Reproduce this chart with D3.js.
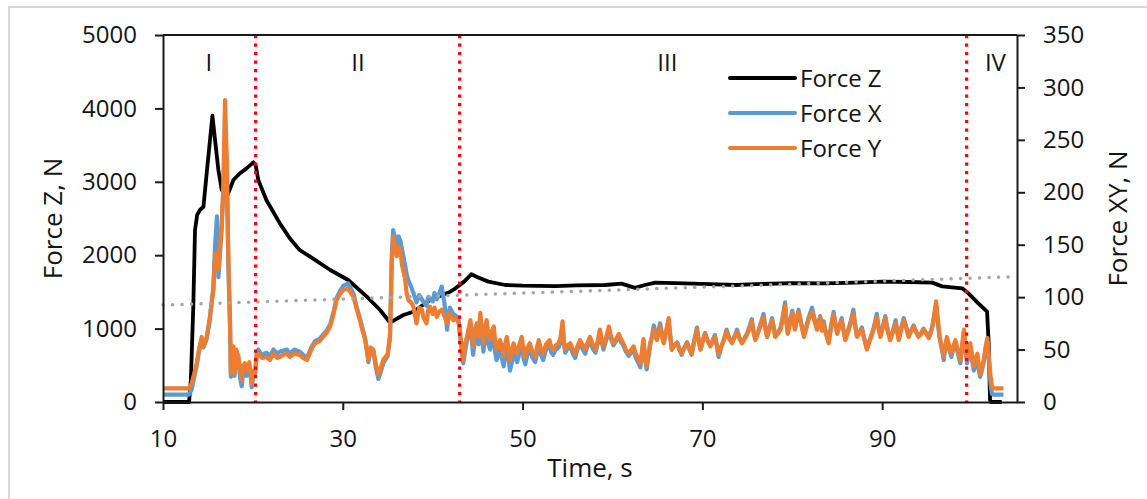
<!DOCTYPE html>
<html><head><meta charset="utf-8">
<script src="https://cdn.jsdelivr.net/npm/d3@7"></script>
<style>
body{margin:0;background:#fff;}
svg{display:block;}
text{font-family:"Open Sans",sans-serif;fill:#141414;}
</style>
</head><body>
<svg id="chart" width="1147" height="499"></svg>
<script>
// ---------- DATA ----------
const timeZ = [10,12.9,13.1,13.37,13.56,13.8,14.1,14.5,14.86,15.23,
  15.5,15.79,16.16,16.35,16.53,17.1,17.5,17.83,18.57,19.3,
  20.05,20.3,20.6,21.5,23.0,24.1,25.2,26.36,28.6,30.6,
  32.67,34.15,35.26,36.75,37.86,39.7,41.9,42.5,43.5,44.3,
  45.0,46.2,48.06,50,53.6,56,59.2,61.0,62.5,63.6,
  64.76,67,70,73.66,76,80,83.7,87,90,93,
  95.55,96.67,98.9,99.6,100.7,101.67,101.85,102.0,102.1,103.3];
const forceZ = [0,0,300,1300,2340,2550,2616,2660,3116,3570,
  3900,3570,3160,3024,2890,2800,2920,3024,3116,3183,
  3265,3230,3024,2752,2434,2230,2071,1980,1798,1662,
  1435,1253,1080,1185,1230,1390,1500,1545,1640,1740,
  1700,1640,1594,1585,1580,1590,1594,1612,1555,1594,
  1626,1620,1610,1594,1605,1620,1617,1625,1640,1635,
  1626,1575,1549,1480,1344,1230,800,30,0,0];

const timeXY = [10.0,12.9,13.2,13.5,13.75,14.0,14.3,14.5,14.86,15.2,
  15.6,15.8,16.0,16.16,16.53,16.7,16.9,17.1,17.27,17.46,
  17.55,17.83,17.95,18.15,18.4,18.6,18.76,18.95,19.1,19.3,
  19.6,19.87,20.05,20.24,20.45,20.6,21.0,21.5,21.9,22.3,
  22.7,23.0,23.4,23.8,24.1,24.6,25.2,25.6,26.0,26.5,
  26.9,27.4,27.8,28.2,28.6,29.0,29.3,29.7,30.07,30.6,
  31.2,31.5,31.9,32.2,32.5,32.85,33.1,33.4,33.7,33.96,
  34.2,34.5,35.0,35.26,35.45,35.6,36.0,36.2,36.4,36.6,
  36.9,37.1,37.3,37.6,37.86,38.0,38.2,38.5,38.8,39.0,
  39.3,39.5,39.7,40.0,40.2,40.46,40.7,41.0,41.3,41.6,
  41.9,42.3,42.6,42.9,43.05,43.4,43.6,43.8,44.0,44.2,
  44.5,44.7,44.9,45.1,45.3,45.5,45.65,45.8,46.0,46.2,
  46.4,46.6,46.8,46.95,47.1,47.3,47.5,47.7,47.9,48.05,
  48.25,48.45,48.6,48.8,49.0,49.2,49.4,49.65,49.9,50.1,
  50.3,50.55,50.8,51.1,51.4,51.6,51.8,52.05,52.3,52.6,
  53.0,53.2,53.4,53.7,54.0,54.2,54.45,54.6,54.75,55.0,
  55.3,55.6,55.85,56.1,56.4,56.7,56.97,57.2,57.5,57.8,
  58.1,58.35,58.6,58.8,59.0,59.3,59.6,59.85,60.1,60.4,
  60.7,60.95,61.2,61.5,61.8,62.1,62.35,62.6,62.9,63.1,
  63.3,63.45,63.6,63.8,64.0,64.2,64.4,64.6,64.8,64.95,
  65.1,65.3,65.5,65.7,65.95,66.25,66.45,66.6,66.9,67.2,
  67.45,67.7,68.0,68.3,68.55,68.8,69.1,69.4,69.6,69.8,
  70.05,70.3,70.6,70.9,71.15,71.4,71.6,71.8,72.1,72.4,
  72.7,73.0,73.3,73.6,73.85,74.1,74.4,74.7,75.0,75.25,
  75.5,75.7,75.9,76.2,76.45,76.6,76.8,77.0,77.2,77.5,
  77.75,77.95,78.1,78.4,78.7,78.95,79.2,79.35,79.5,79.75,
  80.0,80.15,80.3,80.5,80.7,81.0,81.3,81.55,81.8,82.0,
  82.2,82.5,82.75,82.95,83.1,83.3,83.5,83.75,84.05,84.3,
  84.6,84.8,85.0,85.25,85.5,85.7,85.9,86.2,86.5,86.8,
  87.0,87.2,87.5,87.75,88.0,88.3,88.6,88.9,89.15,89.4,
  89.6,89.8,90.1,90.35,90.6,90.9,91.2,91.5,91.7,91.85,
  92.1,92.4,92.7,92.95,93.2,93.5,93.8,94.05,94.35,94.6,
  94.9,95.2,95.4,95.6,96.0,96.2,96.4,96.65,96.85,97.0,
  97.2,97.45,97.7,97.95,98.15,98.45,98.7,98.9,99.1,99.3,
  99.45,99.65,99.8,100.0,100.2,100.4,100.6,100.75,100.9,101.1,
  101.3,101.5,101.7,101.9,102.05,102.2,102.4,103.5];

const forceY = [13,13,18,28,37,50,62,53,62,80,
  107,142,135,126,170,202,288,230,139,75,
  27,53,27,50,43,30,21,35,37,30,
  38,18,30,28,46,46,42,43,40,46,
  42,43,45,46,43,46,45,42,40,50,
  56,58,62,66,72,85,97,103,107,108,
  100,90,78,68,59,40,52,50,35,26,
  32,40,46,65,132,158,139,148,145,130,
  119,104,97,95,91,84,75,90,88,80,
  75,88,91,84,90,81,86,88,82,75,
  85,78,80,75,66,40,55,62,70,78,
  53,68,75,62,85,68,56,70,78,64,
  59,68,72,58,50,55,59,52,43,55,
  62,50,40,48,56,50,46,55,62,50,
  43,52,56,48,43,52,59,50,46,55,
  59,52,50,54,56,60,77,58,50,54,
  56,50,46,53,59,54,50,56,62,55,
  50,58,69,60,53,62,72,62,56,60,
  65,60,56,50,46,50,53,46,40,37,
  50,60,45,34,45,56,62,69,62,59,
  66,72,63,56,66,80,62,50,54,56,
  50,46,52,56,50,46,58,69,58,50,
  58,65,58,53,58,62,54,46,53,59,
  67,60,56,62,67,61,56,60,65,70,
  77,66,59,66,72,76,81,70,62,70,
  78,70,62,65,69,80,92,76,65,75,
  85,76,69,78,86,74,62,70,78,82,
  86,76,69,76,81,68,75,65,56,70,
  83,74,65,72,78,68,59,67,75,85,
  72,62,66,69,60,50,58,65,72,81,
  70,62,72,80,68,59,67,75,66,59,
  68,78,70,62,67,72,66,62,65,69,
  65,61,66,72,96,78,62,52,43,52,
  62,54,46,54,59,48,40,55,69,52,
  40,50,56,45,34,42,46,35,26,33,
  40,52,61,40,25,15,13,13];

const forceX = [7,7,12,25,35,48,60,52,60,78,
  110,150,177,119,165,200,260,215,130,70,
  24,50,25,45,38,22,15,30,33,25,
  36,14,26,27,48,50,45,47,44,50,
  46,48,49,50,46,50,48,45,42,52,
  58,60,64,68,74,87,99,106,111,113,
  103,92,80,70,60,38,50,48,32,22,
  28,37,44,62,140,164,150,158,154,145,
  132,122,116,110,104,100,95,102,98,95,
  92,100,99,96,104,98,103,110,95,69,
  90,84,82,77,62,37,48,58,65,72,
  45,60,68,55,78,60,48,62,70,55,
  50,60,62,48,40,45,50,42,34,45,
  52,40,30,38,46,42,38,47,55,42,
  36,46,50,42,38,46,53,45,40,50,
  54,47,45,50,52,57,72,55,47,51,
  53,46,42,50,56,50,46,53,58,51,
  47,55,66,57,50,59,68,60,54,58,
  63,57,54,48,44,47,50,42,37,33,
  47,58,42,31,43,55,63,73,64,60,
  68,75,65,58,67,78,60,50,54,57,
  50,45,52,57,51,45,59,71,58,50,
  59,66,58,54,59,64,54,43,52,60,
  69,61,57,63,69,62,57,61,66,72,
  79,67,60,67,74,78,84,72,63,72,
  80,71,63,66,71,82,95,77,66,77,
  87,78,70,80,88,75,64,72,80,85,
  90,78,71,77,82,69,77,66,57,72,
  86,75,66,73,80,69,60,68,77,88,
  73,63,67,71,61,51,59,66,74,84,
  72,63,73,82,69,60,68,78,67,60,
  70,80,71,63,68,73,67,63,66,70,
  66,62,67,73,92,75,60,50,40,50,
  60,50,43,52,57,45,37,52,66,48,
  37,46,52,40,30,38,42,30,24,30,
  38,50,58,36,18,8,7,7];

const trendTime = [10, 105];
const trendZ = [1321, 1708];
const phaseBounds = [20.3, 43.0, 99.4];
const phaseLabels = ["I", "II", "III", "IV"];
const phaseLabelTime = [15.1, 31.7, 66.1, 102.6];
const xTicks = [10, 30, 50, 70, 90];
const zTicks = [0, 1000, 2000, 3000, 4000, 5000];
const xyTicks = [0, 50, 100, 150, 200, 250, 300, 350];
const seriesNames = ["Force Z", "Force X", "Force Y"];
const seriesColors = ["#000000", "#5B9BD5", "#ED7D31"];

// ---------- CHART ----------
const svg = d3.select("#chart");
const L = 163, R = 1017, T = 35, B = 402;

const x = d3.scaleLinear().domain([10, 105]).range([L, R]);
const yZ = d3.scaleLinear().domain([0, 5000]).range([B, T]);
const yXY = d3.scaleLinear().domain([0, 350]).range([B, T]);

// outer frame
svg.append("rect").attr("x", 9).attr("y", 7).attr("width", 1300).attr("height", 700)
  .attr("fill", "none").attr("stroke", "#d9d9d9").attr("stroke-width", 2);

const plot = svg.append("g");

function zip(t, v) { const n = Math.min(t.length, v.length); const a = []; for (let i = 0; i < n; i++) a.push([t[i], v[i]]); return a; }

const lineZ = d3.line().x(d => x(d[0])).y(d => yZ(d[1]));
const lineXY = d3.line().x(d => x(d[0])).y(d => yXY(d[1]));

plot.append("path").datum(zip(timeZ, forceZ)).attr("d", lineZ)
  .attr("fill", "none").attr("stroke", seriesColors[0]).attr("stroke-width", 3.8)
  .attr("stroke-linejoin", "round");
plot.append("path").datum(zip(timeXY, forceX)).attr("d", lineXY)
  .attr("fill", "none").attr("stroke", seriesColors[1]).attr("stroke-width", 4.2)
  .attr("stroke-linejoin", "round");
plot.append("path").datum(zip(timeXY, forceY)).attr("d", lineXY)
  .attr("fill", "none").attr("stroke", seriesColors[2]).attr("stroke-width", 4.2)
  .attr("stroke-linejoin", "round");

// trend line (dotted gray)
plot.append("path").datum(zip(trendTime, trendZ)).attr("d", lineZ)
  .attr("fill", "none").attr("stroke", "#a6a6a6").attr("stroke-width", 3.5)
  .attr("stroke-linecap", "round").attr("stroke-dasharray", "0.1 9.4");

// phase boundaries
plot.selectAll(".phase").data(phaseBounds).enter().append("line")
  .attr("x1", d => x(d)).attr("x2", d => x(d)).attr("y1", T).attr("y2", B)
  .attr("stroke", "#ff0000").attr("stroke-width", 3.2).attr("stroke-dasharray", "3.3 5.2");

// phase labels
plot.selectAll(".plabel").data(phaseLabels).enter().append("text")
  .attr("x", (d, i) => x(phaseLabelTime[i])).attr("y", 71)
  .attr("text-anchor", "middle").attr("font-size", 24).text(d => d);

// axes
function styleAxis(g) {
  g.select(".domain").attr("stroke", "#1a1a1a").attr("stroke-width", 2);
  g.selectAll(".tick line").attr("stroke", "#1a1a1a").attr("stroke-width", 2);
  g.selectAll(".tick text").attr("fill", "#141414").attr("font-size", 24)
    .attr("font-family", '"Open Sans", sans-serif');
}
svg.append("g").attr("transform", `translate(${L},0)`)
  .call(d3.axisLeft(yZ).tickValues(zTicks).tickFormat(d3.format("d")).tickSize(8).tickSizeOuter(0).tickPadding(18))
  .call(styleAxis);
svg.append("g").attr("transform", `translate(${R},0)`)
  .call(d3.axisRight(yXY).tickValues(xyTicks).tickFormat(d3.format("d")).tickSize(8).tickSizeOuter(0).tickPadding(18))
  .call(styleAxis);
svg.append("g").attr("transform", `translate(0,${B})`)
  .call(d3.axisBottom(x).tickValues(xTicks).tickFormat(d3.format("d")).tickSize(8).tickSizeOuter(0).tickPadding(20))
  .call(styleAxis);
// top border
svg.append("line").attr("x1", L).attr("x2", R).attr("y1", T).attr("y2", T)
  .attr("stroke", "#1a1a1a").attr("stroke-width", 2);

// axis titles
svg.append("text").attr("x", 590).attr("y", 477).attr("text-anchor", "middle")
  .attr("font-size", 26).text("Time, s");
svg.append("text").attr("transform", `translate(62,${(T + B) / 2}) rotate(-90)`)
  .attr("text-anchor", "middle").attr("font-size", 26).text("Force Z, N");
svg.append("text").attr("transform", `translate(1127,${(T + B) / 2}) rotate(-90)`)
  .attr("text-anchor", "middle").attr("font-size", 26).text("Force XY, N");

// legend
const legY = [78, 113, 148];
const leg = svg.append("g");
seriesNames.forEach((n, i) => {
  leg.append("line").attr("x1", 730).attr("x2", 795).attr("y1", legY[i]).attr("y2", legY[i])
    .attr("stroke", seriesColors[i]).attr("stroke-width", 4).attr("stroke-linecap", "round");
  leg.append("text").attr("x", 800).attr("y", legY[i] + 9).attr("font-size", 24).text(n);
});
</script>
</body></html>
